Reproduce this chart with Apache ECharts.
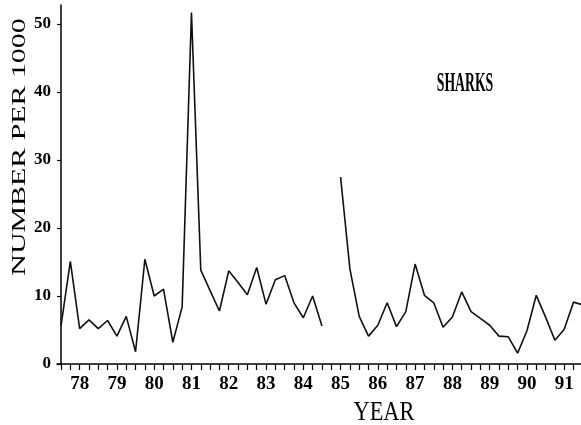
<!DOCTYPE html>
<html>
<head>
<meta charset="utf-8">
<script src="https://cdn.jsdelivr.net/npm/echarts@6/dist/echarts.min.js"></script>
<style>
html,body{margin:0;padding:0;background:#fff;}
#c{width:581px;height:425px;}
</style>
</head>
<body>
<div id="c"></div>
<script>
// Quarterly shark catch rates (number per 1000), index 0 = first quarter shown
const values = [5.6, 15.1, 5.2, 6.5, 5.2, 6.4, 4.1, 7.0, 1.8, 15.4,
  10.0, 11.0, 3.2, 8.4, 51.7, 13.8, 10.8, 7.8, 13.7, 12.0,
  10.2, 14.2, 8.8, 12.4, 13.0, 9.0, 6.8, 10.0, 5.6, null,
  27.5, 14.0, 7.0, 4.1, 5.7, 9.0, 5.5, 7.7, 14.7, 10.1,
  9.0, 5.4, 6.9, 10.6, 7.7, 6.7, 5.7, 4.1, 4.0, 1.6,
  4.9, 10.1, 6.9, 3.5, 5.1, 9.1, 8.7];
const yearLabels = [78, 79, 80, 81, 82, 83, 84, 85, 86, 87, 88, 89, 90, 91];
const firstYearIndex = 2;      // quarter index where "78" sits
const quartersPerYear = 4;
const yTicks = [0, 10, 20, 30, 40, 50];
const seriesName = 'SHARKS';
const xTitle = 'YEAR';
const yTitle = 'NUMBER PER 1000';

const data = values.map((v, i) => [i, v]);
const tickIdx = [];
for (let i = 0; i < values.length - 1; i++) tickIdx.push(i);
const labelIdx = yearLabels.map((y, k) => firstYearIndex + k * quartersPerYear);

const font = "'Liberation Serif', 'Times New Roman', serif";
const chart = echarts.init(document.getElementById('c'), null, {renderer: 'canvas'});
chart.setOption({
  animation: false,
  backgroundColor: '#fff',
  grid: {left: 57, right: 0, top: 5, bottom: 61, containLabel: false},
  xAxis: {
    type: 'value', min: -0.43, max: 55.8,
    splitLine: {show: false},
    axisLine: {lineStyle: {color: '#000', width: 1.5}},
    axisTick: {show: true, length: 6, customValues: tickIdx, lineStyle: {color: '#000', width: 1.2}},
    axisLabel: {
      customValues: labelIdx, margin: 11,
      color: '#000', fontFamily: font, fontSize: 19, fontWeight: 'bold',
      formatter: v => String(yearLabels[Math.round((v - firstYearIndex) / quartersPerYear)])
    }
  },
  yAxis: {
    type: 'value', min: 0, max: 52.8,
    splitLine: {show: false},
    axisLine: {show: true, lineStyle: {color: '#000', width: 1.5}},
    axisTick: {show: true, length: 4, customValues: yTicks, lineStyle: {color: '#000', width: 1.2}},
    axisLabel: {customValues: yTicks, margin: 6, color: '#000', fontFamily: font, fontSize: 17, fontWeight: 'bold'}
  },
  graphic: [
    {type: 'text', x: 20, y: 147, rotation: Math.PI / 2, scaleX: 1.66,
     style: {text: yTitle, font: "18px " + font, fill: '#000', align: 'center', verticalAlign: 'middle', textAlign: 'center', textVerticalAlign: 'middle'}},
    {type: 'text', x: 384, y: 413, scaleX: 0.8,
     style: {text: xTitle, font: "28px " + font, fill: '#000', align: 'center', verticalAlign: 'middle', textAlign: 'center', textVerticalAlign: 'middle'}},
    {type: 'text', x: 465, y: 84, scaleX: 0.49,
     style: {text: seriesName, font: "bold 28px " + font, fill: '#000', align: 'center', verticalAlign: 'middle', textAlign: 'center', textVerticalAlign: 'middle'}}
  ],
  series: [{
    name: seriesName, type: 'line', data: data,
    showSymbol: false, connectNulls: false, clip: true,
    lineStyle: {color: '#111', width: 1.6}
  }]
});
</script>
</body>
</html>
